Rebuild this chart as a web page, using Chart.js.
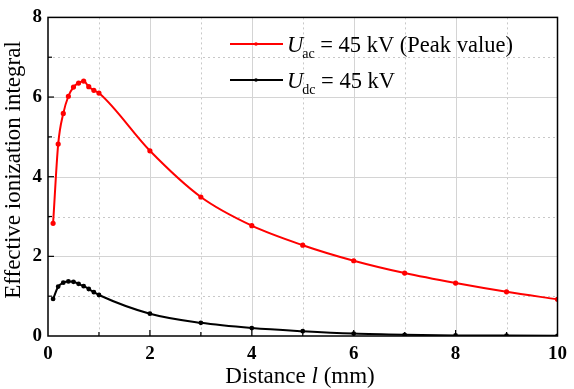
<!DOCTYPE html>
<html>
<head>
<meta charset="utf-8">
<script src="https://cdn.jsdelivr.net/npm/chart.js@4/dist/chart.umd.min.js"></script>
<style>
  html, body { margin: 0; padding: 0; background: #fff; }
  #wrap { width: 574px; height: 389px; }
</style>
</head>
<body>
<div id="wrap"><canvas id="chart1" width="574" height="389"></canvas></div>
<script>
// distance (mm) and effective ionization integral
const distance = [0.1, 0.2, 0.3, 0.4, 0.5, 0.6, 0.7, 0.8, 0.9, 1, 2, 3, 4, 5, 6, 7, 8, 9, 10];
const acValues = [2.83, 4.82, 5.59, 6.02, 6.25, 6.35, 6.40, 6.26, 6.17, 6.10, 4.65, 3.49, 2.77, 2.28, 1.89, 1.58, 1.33, 1.11, 0.92];
const dcValues = [0.93, 1.24, 1.34, 1.37, 1.36, 1.31, 1.25, 1.18, 1.10, 1.03, 0.56, 0.33, 0.20, 0.12, 0.06, 0.03, 0.015, 0.01, 0.005];
const xTicks = [0, 2, 4, 6, 8, 10];
const yTicks = [0, 2, 4, 6, 8];
const seriesNames = [['U', 'ac', ' = 45 kV (Peak value)'], ['U', 'dc', ' = 45 kV']];
const seriesColors = ['#ff0000', '#000000'];

const serif = '"Liberation Serif", "Times New Roman", serif';

function pts(ys) {
    return distance.map((x, i) => ({ x: x, y: ys[i] }));
}

// grid, inward ticks, frame, legend and axis titles
const decor = {
    id: 'decor',
    beforeDatasetsDraw(chart) {
        const ctx = chart.ctx;
        const a = chart.chartArea;
        const xs = chart.scales.x, ys = chart.scales.y;
        ctx.save();
        ctx.lineWidth = 1;
        for (let v = 1; v < 10; v++) {
            const px = Math.round(xs.getPixelForValue(v)) + 0.5;
            ctx.strokeStyle = v % 2 ? '#c8c8c8' : '#d4d4d4';
            ctx.setLineDash(v % 2 ? [2, 3] : []);
            ctx.beginPath(); ctx.moveTo(px, a.top); ctx.lineTo(px, a.bottom); ctx.stroke();
        }
        for (let v = 1; v < 8; v++) {
            const py = Math.round(ys.getPixelForValue(v)) + 0.5;
            ctx.strokeStyle = v % 2 ? '#c8c8c8' : '#d4d4d4';
            ctx.setLineDash(v % 2 ? [2, 3] : []);
            ctx.beginPath(); ctx.moveTo(a.left, py); ctx.lineTo(a.right, py); ctx.stroke();
        }
        ctx.restore();
    },
    afterDatasetsDraw(chart) {
        const ctx = chart.ctx;
        const a = chart.chartArea;
        const xs = chart.scales.x, ys = chart.scales.y;
        ctx.save();
        ctx.strokeStyle = '#000';
        ctx.lineWidth = 1.5;
        ctx.strokeRect(a.left, a.top, a.right - a.left, a.bottom - a.top);
        ctx.lineWidth = 1.2;
        for (let v = 1; v < 10; v++) {
            const px = xs.getPixelForValue(v);
            const len = v % 2 ? 4 : 6;
            ctx.beginPath(); ctx.moveTo(px, a.bottom); ctx.lineTo(px, a.bottom - len); ctx.stroke();
        }
        for (let v = 1; v < 8; v++) {
            const py = ys.getPixelForValue(v);
            const len = v % 2 ? 4 : 6;
            ctx.beginPath(); ctx.moveTo(a.left, py); ctx.lineTo(a.left + len, py); ctx.stroke();
        }

        // legend
        const rows = [44, 80];
        rows.forEach((ry, i) => {
            ctx.strokeStyle = seriesColors[i];
            ctx.fillStyle = seriesColors[i];
            ctx.lineWidth = 2;
            ctx.beginPath(); ctx.moveTo(230, ry); ctx.lineTo(283, ry); ctx.stroke();
            ctx.beginPath(); ctx.arc(256, ry, 1.8, 0, Math.PI * 2); ctx.fill();
            const n = seriesNames[i];
            ctx.fillStyle = '#000';
            ctx.textBaseline = 'alphabetic';
            ctx.textAlign = 'left';
            let x = 287;
            ctx.font = 'italic 22.5px ' + serif;
            ctx.fillText(n[0], x, ry + 8);
            x += ctx.measureText(n[0]).width - 1;
            ctx.font = '14px ' + serif;
            ctx.fillText(n[1], x, ry + 14);
            x += ctx.measureText(n[1]).width;
            ctx.font = '22.5px ' + serif;
            ctx.fillText(n[2], x, ry + 8);
        });

        // x title
        ctx.fillStyle = '#000';
        ctx.textBaseline = 'middle';
        const p1 = 'Distance ', p2 = 'l', p3 = ' (mm)';
        const f = '23px ' + serif;
        ctx.font = f;
        const w1 = ctx.measureText(p1).width, w3 = ctx.measureText(p3).width;
        ctx.font = 'italic ' + f;
        const w2 = ctx.measureText(p2).width;
        let tx = 300 - (w1 + w2 + w3) / 2;
        ctx.textAlign = 'left';
        ctx.font = f;
        ctx.fillText(p1, tx, 377);
        tx += w1;
        ctx.font = 'italic ' + f;
        ctx.fillText(p2, tx, 377);
        tx += w2;
        ctx.font = f;
        ctx.fillText(p3, tx, 377);

        // y title
        ctx.translate(14, 170);
        ctx.rotate(-Math.PI / 2);
        ctx.textAlign = 'center';
        ctx.font = f;
        ctx.fillText('Effective ionization integral', 0, 0);
        ctx.restore();
    }
};

new Chart(document.getElementById('chart1'), {
    type: 'line',
    data: {
        datasets: [{
            label: 'U_ac = 45 kV (Peak value)',
            data: pts(acValues),
            borderColor: seriesColors[0],
            backgroundColor: seriesColors[0],
            borderWidth: 2,
            pointRadius: 1.6,
            cubicInterpolationMode: 'monotone'
        }, {
            label: 'U_dc = 45 kV',
            data: pts(dcValues),
            borderColor: seriesColors[1],
            backgroundColor: seriesColors[1],
            borderWidth: 2,
            pointRadius: 1.4,
            cubicInterpolationMode: 'monotone'
        }]
    },
    options: {
        responsive: false,
        animation: false,
        layout: { padding: { top: 15, right: 13, left: 0, bottom: 0 } },
        plugins: {
            legend: { display: false },
            tooltip: { enabled: false }
        },
        scales: {
            x: {
                type: 'linear',
                min: 0, max: 10,
                afterBuildTicks: s => { s.ticks = xTicks.map(v => ({ value: v })); },
                afterFit: s => { s.height = 53; },
                grid: { display: false, drawTicks: false },
                border: { display: false },
                ticks: { padding: 7, color: '#000', font: { family: serif, size: 19, weight: 'bold' } }
            },
            y: {
                min: 0, max: 8,
                afterBuildTicks: s => { s.ticks = yTicks.map(v => ({ value: v })); },
                afterFit: s => { s.width = 48; },
                grid: { display: false, drawTicks: false },
                border: { display: false },
                ticks: { padding: 6, color: '#000', font: { family: serif, size: 19, weight: 'bold' } }
            }
        }
    },
    plugins: [decor]
});
</script>
</body>
</html>
